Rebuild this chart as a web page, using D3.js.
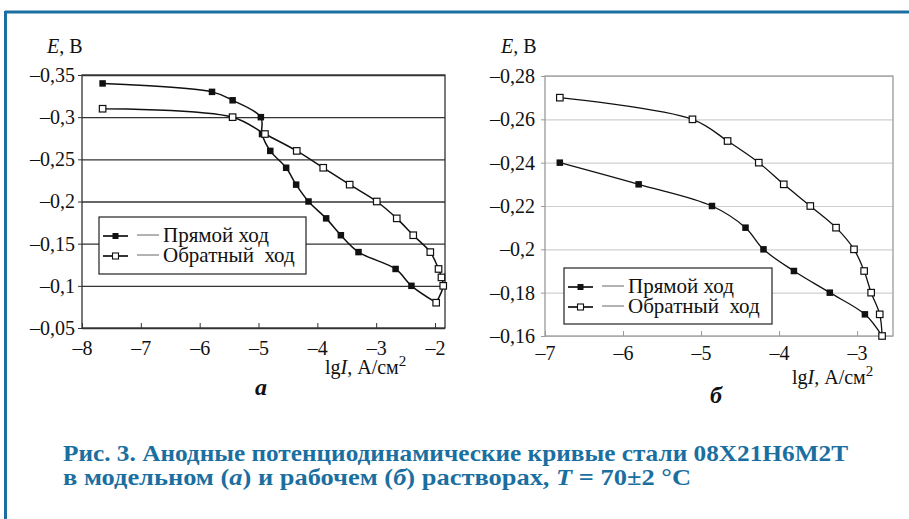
<!DOCTYPE html>
<html>
<head>
<meta charset="utf-8">
<script src="https://cdn.jsdelivr.net/npm/d3@7"></script>
<style>
  body { margin: 0; background: #fff; }
  svg text { font-family: "Liberation Serif", "Times New Roman", Tinos, Times, serif; }
</style>
</head>
<body>
<div id="chart"></div>
<script>
// panel a (модельный раствор)
const aForwardLgI = [-7.65, -5.79, -5.44, -4.96, -4.94, -4.80, -4.53, -4.36, -4.15, -3.85, -3.60, -3.30, -2.67, -2.40];
const aForwardE   = [-0.34, -0.33, -0.32, -0.30, -0.28, -0.26, -0.24, -0.22, -0.20, -0.18, -0.16, -0.14, -0.12, -0.10];
const aReverseLgI = [-1.98, -1.86, -1.89, -1.94, -2.08, -2.37, -2.65, -2.99, -3.45, -3.90, -4.35, -4.89, -5.44, -7.65];
const aReverseE   = [-0.08, -0.10, -0.11, -0.12, -0.14, -0.16, -0.18, -0.20, -0.22, -0.24, -0.26, -0.28, -0.30, -0.31];
const aXTicks = [-8, -7, -6, -5, -4, -3, -2];
const aYTicks = [-0.35, -0.30, -0.25, -0.20, -0.15, -0.10, -0.05];
const aYLabels = ["–0,35", "–0,3", "–0,25", "–0,2", "–0,15", "–0,1", "–0,05"];

// panel б (рабочий раствор)
const bForwardLgI = [-6.81, -5.80, -4.86, -4.43, -4.20, -3.81, -3.35, -2.90];
const bForwardE   = [-0.24, -0.23, -0.22, -0.21, -0.20, -0.19, -0.18, -0.17];
const bReverseLgI = [-2.68, -2.71, -2.82, -2.91, -3.04, -3.27, -3.60, -3.94, -4.26, -4.66, -5.11, -6.81];
const bReverseE   = [-0.16, -0.17, -0.18, -0.19, -0.20, -0.21, -0.22, -0.23, -0.24, -0.25, -0.26, -0.27];
const bXTicks = [-7, -6, -5, -4, -3];
const bYTicks = [-0.28, -0.26, -0.24, -0.22, -0.20, -0.18, -0.16];
const bYLabels = ["–0,28", "–0,26", "–0,24", "–0,22", "–0,2", "–0,18", "–0,16"];

const legendNames = ["Прямой ход", "Обратный  ход"];

const W = 909, H = 519;
const blue = "#1b6fa0";
const serif = '"Liberation Serif", "Times New Roman", Tinos, Times, serif';

const svg = d3.select("#chart").append("svg")
  .attr("width", W).attr("height", H);

// blue frame
svg.append("line").attr("x1", 5).attr("x2", W).attr("y1", 12).attr("y2", 12)
  .attr("stroke", blue).attr("stroke-width", 3);
svg.append("line").attr("x1", 5.5).attr("x2", 5.5).attr("y1", 11).attr("y2", H)
  .attr("stroke", blue).attr("stroke-width", 3);

function zip(xs, ys) { return xs.map((x, i) => ({ x: x, y: ys[i] })); }

function drawPanel(cfg) {
  const x = d3.scaleLinear().domain(cfg.xDomain).range([cfg.left, cfg.right]);
  const y = d3.scaleLinear().domain(cfg.yDomain).range([cfg.top, cfg.bottom]);
  const g = svg.append("g");

  // gridlines
  g.append("g")
    .attr("transform", `translate(${cfg.left},0)`)
    .call(d3.axisLeft(y).tickValues(cfg.yTicks).tickSize(-(cfg.right - cfg.left)).tickFormat(""))
    .call(s => s.select(".domain").remove())
    .call(s => s.selectAll("text").remove())
    .call(s => s.selectAll(".tick line").attr("stroke", cfg.gridColor).attr("stroke-width", cfg.gridWidth));

  // plot border
  g.append("rect")
    .attr("x", cfg.left).attr("y", cfg.top)
    .attr("width", cfg.right - cfg.left).attr("height", cfg.bottom - cfg.top)
    .attr("fill", "none").attr("stroke", cfg.borderColor).attr("stroke-width", 1.3);

  // y axis
  g.append("g")
    .attr("transform", `translate(${cfg.left},0)`)
    .call(d3.axisLeft(y).tickValues(cfg.yTicks).tickSize(4).tickPadding(cfg.yPad)
      .tickFormat((d, i) => cfg.yLabels[i]))
    .call(s => s.select(".domain").remove())
    .call(s => s.selectAll(".tick line").attr("stroke", cfg.borderColor))
    .call(s => s.selectAll("text").attr("font-size", 20).attr("fill", "#111")
      .style("font-family", serif));

  // x axis, ticks pointing inward
  g.append("g")
    .attr("transform", `translate(0,${cfg.bottom})`)
    .call(d3.axisBottom(x).tickValues(cfg.xTicks).tickSizeInner(-5).tickSizeOuter(0)
      .tickPadding(cfg.xPad).tickFormat(d => "–" + Math.abs(d)))
    .call(s => s.select(".domain").remove())
    .call(s => s.selectAll(".tick line").attr("stroke", cfg.borderColor))
    .call(s => s.selectAll("text").attr("font-size", 20).attr("fill", "#111")
      .style("font-family", serif));

  // curves
  const line = d3.line().x(d => x(d.x)).y(d => y(d.y)).curve(d3.curveCatmullRom.alpha(0.5));
  const fwd = zip(cfg.fLgI, cfg.fE);
  const rev = zip(cfg.rLgI, cfg.rE);
  g.append("path").datum(fwd.concat([rev[0]])).attr("d", line)
    .attr("fill", "none").attr("stroke", "#111").attr("stroke-width", cfg.lineWidth);
  g.append("path").datum(rev).attr("d", line)
    .attr("fill", "none").attr("stroke", "#111").attr("stroke-width", cfg.lineWidth);

  const ms = 6.5;
  g.selectAll(".mf").data(fwd).join("rect")
    .attr("x", d => x(d.x) - ms / 2).attr("y", d => y(d.y) - ms / 2)
    .attr("width", ms).attr("height", ms).attr("fill", "#111");
  g.selectAll(".mo").data(rev).join("rect")
    .attr("x", d => x(d.x) - ms / 2).attr("y", d => y(d.y) - ms / 2)
    .attr("width", ms).attr("height", ms).attr("fill", "#fff")
    .attr("stroke", "#111").attr("stroke-width", 1.2);

  // legend
  const L = cfg.legend;
  g.append("rect").attr("x", L.x).attr("y", L.y).attr("width", L.w).attr("height", L.h)
    .attr("fill", "#fff").attr("stroke", "#222").attr("stroke-width", 1.2);
  legendNames.forEach((name, i) => {
    const yy = L.y + 19 + i * 20;
    g.append("line").attr("x1", L.x + 4).attr("x2", L.x + 29).attr("y1", yy).attr("y2", yy)
      .attr("stroke", "#111").attr("stroke-width", 1.7);
    g.append("rect").attr("x", L.x + 16.5 - 3).attr("y", yy - 3).attr("width", 6).attr("height", 6)
      .attr("fill", i === 0 ? "#111" : "#fff").attr("stroke", "#111").attr("stroke-width", i === 0 ? 0 : 1.1);
    g.append("line").attr("x1", L.x + 38).attr("x2", L.x + 60).attr("y1", yy - 1).attr("y2", yy - 1)
      .attr("stroke", "#555").attr("stroke-width", 0.9);
    g.append("text").attr("x", L.x + 64).attr("y", yy + 6)
      .attr("font-size", 21).attr("fill", "#111").style("white-space", "pre").text(name);
  });

  // axis titles
  const et = g.append("text").attr("x", cfg.eX).attr("y", 53).attr("font-size", 20).attr("fill", "#111");
  et.append("tspan").attr("font-style", "italic").text("E");
  et.append("tspan").text(", В");

  const xt = g.append("text").attr("x", cfg.xtX).attr("y", cfg.xtY).attr("font-size", 20).attr("fill", "#111");
  xt.append("tspan").text("lg");
  xt.append("tspan").attr("font-style", "italic").text("I");
  xt.append("tspan").text(", А/см");
  xt.append("tspan").attr("dy", -8).attr("font-size", 15).text("2");

  g.append("text").attr("x", cfg.letterX).attr("y", cfg.letterY).attr("text-anchor", "middle")
    .attr("font-size", 24).attr("font-weight", "bold").attr("font-style", "italic")
    .attr("fill", "#111").text(cfg.letter);
}

drawPanel({
  xDomain: [-8, -1.83], yDomain: [-0.35, -0.05],
  left: 82, right: 445, top: 75, bottom: 328,
  xTicks: aXTicks, yTicks: aYTicks, yLabels: aYLabels,
  fLgI: aForwardLgI, fE: aForwardE, rLgI: aReverseLgI, rE: aReverseE,
  gridColor: "#333", gridWidth: 1.4, borderColor: "#333", xPad: 13, yPad: 3, lineWidth: 1.5,
  legend: { x: 99, y: 217, w: 207, h: 57 },
  eX: 47, xtX: 325, xtY: 374, letter: "а", letterX: 261, letterY: 395
});

drawPanel({
  xDomain: [-7, -2.54], yDomain: [-0.28, -0.16],
  left: 545, right: 893, top: 76, bottom: 336,
  xTicks: bXTicks, yTicks: bYTicks, yLabels: bYLabels,
  fLgI: bForwardLgI, fE: bForwardE, rLgI: bReverseLgI, rE: bReverseE,
  gridColor: "#cfcfcf", gridWidth: 1.1, borderColor: "#9a9a9a", xPad: 10, yPad: 6, lineWidth: 1.3,
  legend: { x: 564, y: 268, w: 208, h: 56 },
  eX: 501, xtX: 792, xtY: 384, letter: "б", letterX: 716, letterY: 403
});

// caption
svg.append("text").attr("x", 63).attr("y", 461)
  .attr("font-size", 24).attr("font-weight", "bold").attr("fill", blue)
  .attr("textLength", 785).attr("lengthAdjust", "spacingAndGlyphs")
  .text("Рис. 3. Анодные потенциодинамические кривые стали 08Х21Н6М2Т");
const c2 = svg.append("text").attr("x", 63).attr("y", 485)
  .attr("font-size", 24).attr("font-weight", "bold").attr("fill", blue)
  .attr("textLength", 628).attr("lengthAdjust", "spacingAndGlyphs");
c2.append("tspan").text("в модельном (");
c2.append("tspan").attr("font-style", "italic").text("а");
c2.append("tspan").text(") и рабочем (");
c2.append("tspan").attr("font-style", "italic").text("б");
c2.append("tspan").text(") растворах, ");
c2.append("tspan").attr("font-style", "italic").text("T");
c2.append("tspan").text(" = 70±2 °C");
</script>
</body>
</html>
